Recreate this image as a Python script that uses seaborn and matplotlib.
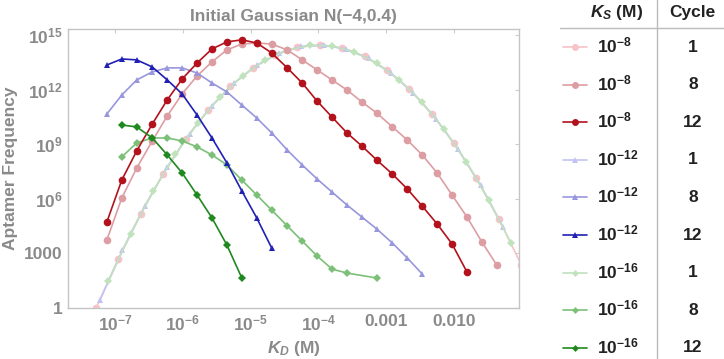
import matplotlib
matplotlib.use('Agg')  # no display
import matplotlib.pyplot as plt
import seaborn as sns
import numpy as np
import pandas as pd
from matplotlib.lines import Line2D
from matplotlib.ticker import FixedLocator, NullLocator

sns.set_style('white')
plt.rcParams['font.family'] = ['Liberation Sans', 'DejaVu Sans']
plt.rcParams['mathtext.fontset'] = 'custom'
plt.rcParams['mathtext.rm'] = 'Liberation Sans:bold'
plt.rcParams['mathtext.bf'] = 'Liberation Sans:bold'
plt.rcParams['mathtext.it'] = 'Liberation Sans:italic:bold'
plt.rcParams['mathtext.default'] = 'rm'

# ---- data: log10(K_D) and log10(frequency) ----
# cycle 1 (initial gaussian), one per K_S
ks8_c1_x = [-7.28, -6.95, -6.62, -6.29, -5.96, -5.63, -5.30, -4.97, -4.64, -4.31,
            -3.98, -3.65, -3.32, -2.99, -2.66, -2.33, -2.00, -1.67, -1.34, -1.01]
ks8_c1_y = [0.0, 2.70, 5.18, 7.37, 9.26, 10.86, 12.17, 13.18, 13.90, 14.32,
            14.45, 14.28, 13.83, 13.07, 12.03, 10.68, 9.05, 7.12, 4.90, 2.38]
ks12_c1_x = [-7.22, -6.89, -6.56, -6.23, -5.90, -5.57, -5.24, -4.91, -4.58, -4.25,
             -3.92, -3.59, -3.26, -2.93, -2.60, -2.27, -1.94, -1.61, -1.28]
ks12_c1_y = [0.45, 3.17, 5.60, 7.74, 9.58, 11.12, 12.37, 13.33, 14.00, 14.37,
             14.44, 14.22, 13.71, 12.90, 11.80, 10.41, 8.72, 6.74, 4.46]
ks16_c1_x = [-7.10, -6.77, -6.44, -6.11, -5.78, -5.45, -5.12, -4.79, -4.46, -4.13,
             -3.80, -3.47, -3.14, -2.81, -2.48, -2.15, -1.82, -1.49, -1.16]
ks16_c1_y = [1.48, 4.09, 6.41, 8.44, 10.17, 11.61, 12.76, 13.61, 14.16, 14.43,
             14.40, 14.07, 13.45, 12.54, 11.33, 9.83, 8.03, 5.94, 3.56]

# later cycles
ks8_c8_x = [-7.12, -6.90, -6.68, -6.45, -6.23, -6.01, -5.79, -5.57, -5.35, -5.13,
            -4.91, -4.69, -4.46, -4.24, -4.02, -3.80, -3.58, -3.36, -3.14, -2.91,
            -2.69, -2.47, -2.25, -2.03, -1.81, -1.59, -1.37]
ks8_c8_y = [3.74, 6.04, 7.69, 9.18, 10.55, 11.76, 12.75, 13.52, 14.18, 14.50,
            14.56, 14.50, 14.18, 13.63, 13.08, 12.53, 11.98, 11.32, 10.71, 9.95,
            9.23, 8.41, 7.42, 6.21, 5.00, 3.63, 2.36]
ks8_c12_x = [-7.12, -6.90, -6.68, -6.45, -6.23, -6.01, -5.79, -5.57, -5.35, -5.13,
             -4.91, -4.69, -4.46, -4.24, -4.02, -3.80, -3.58, -3.36, -3.14, -2.91,
             -2.69, -2.47, -2.25, -2.03, -1.81]
ks8_c12_y = [4.73, 7.03, 8.63, 10.11, 11.43, 12.58, 13.46, 14.23, 14.62, 14.73,
             14.56, 14.01, 13.19, 12.36, 11.37, 10.49, 9.62, 8.90, 8.13, 7.36,
             6.54, 5.60, 4.62, 3.52, 1.98]
ks12_c8_x = [-7.12, -6.90, -6.68, -6.45, -6.23, -6.01, -5.79, -5.57, -5.35, -5.13,
             -4.91, -4.69, -4.46, -4.24, -4.02, -3.80, -3.58, -3.36, -3.14, -2.91,
             -2.69, -2.47]
ks12_c8_y = [10.66, 11.70, 12.53, 12.97, 13.19, 13.19, 12.91, 12.36, 11.87, 11.15,
             10.44, 9.62, 8.68, 7.86, 7.09, 6.37, 5.66, 5.00, 4.34, 3.57,
             2.75, 1.87]
ks12_c12_x = [-7.12, -6.90, -6.68, -6.45, -6.23, -6.01, -5.79, -5.57, -5.35, -5.13,
              -4.91, -4.69]
ks12_c12_y = [13.35, 13.68, 13.63, 13.24, 12.53, 11.76, 10.60, 9.34, 7.97, 6.43,
              4.95, 3.30]
ks16_c8_x = [-6.90, -6.68, -6.45, -6.23, -6.01, -5.79, -5.57, -5.35, -5.13, -4.91,
             -4.69, -4.46, -4.24, -4.02, -3.80, -3.58, -3.14]
ks16_c8_y = [8.30, 9.07, 9.34, 9.34, 9.18, 8.85, 8.41, 7.86, 7.03, 6.21,
             5.38, 4.51, 3.68, 2.86, 2.14, 1.92, 1.65]
ks16_c12_x = [-6.90, -6.68, -6.45, -6.23, -6.01, -5.79, -5.57, -5.35, -5.13]
ks16_c12_y = [10.05, 9.95, 9.34, 8.41, 7.42, 6.21, 4.95, 3.46, 1.65]

ks_labels = [r'$10^{-8}$', r'$10^{-8}$', r'$10^{-8}$',
             r'$10^{-12}$', r'$10^{-12}$', r'$10^{-12}$',
             r'$10^{-16}$', r'$10^{-16}$', r'$10^{-16}$']
cycle_labels = ['1', '8', '12', '1', '8', '12', '1', '8', '12']

x_ticks = [1e-7, 1e-6, 1e-5, 1e-4, 1e-3, 1e-2]
x_ticklabels = [r'$10^{-7}$', r'$10^{-6}$', r'$10^{-5}$', r'$10^{-4}$', '0.001', '0.010']
y_ticks = [1, 1e3, 1e6, 1e9, 1e12, 1e15]
y_ticklabels = ['1', '1000', r'$10^{6}$', r'$10^{9}$', r'$10^{12}$', r'$10^{15}$']

series = [
    (ks8_c1_x, ks8_c1_y), (ks8_c8_x, ks8_c8_y), (ks8_c12_x, ks8_c12_y),
    (ks12_c1_x, ks12_c1_y), (ks12_c8_x, ks12_c8_y), (ks12_c12_x, ks12_c12_y),
    (ks16_c1_x, ks16_c1_y), (ks16_c8_x, ks16_c8_y), (ks16_c12_x, ks16_c12_y),
]
colors = ['#f6c3c8', '#dd9ea3', '#b3121c',
          '#c2c2f4', '#9897dd', '#2020b4',
          '#c0e2bd', '#7cc078', '#1f891f']
markers = ['o', 'o', 'o', '^', '^', '^', 'D', 'D', 'D']
msizes = [5.5, 5.5, 5.5, 5, 5, 5, 4, 4, 4]
draw_order = [0, 3, 6, 1, 4, 7, 2, 5, 8]

rows = []
for i, (xs, ys) in enumerate(series):
    for xv, yv in zip(xs, ys):
        rows.append({'series': i, 'KD': 10 ** xv, 'freq': 10 ** yv})
df = pd.DataFrame(rows)

fig = plt.figure(figsize=(7.24, 3.59), dpi=100)
ax = fig.add_axes([0.094, 0.142, 0.623, 0.777])
ax.set_xscale('log')
ax.set_yscale('log')

for i in draw_order:
    sub = df[df['series'] == i]
    sns.lineplot(data=sub, x='KD', y='freq', ax=ax, color=colors[i], marker=markers[i],
                 markersize=msizes[i], markeredgewidth=0, linewidth=1.2,
                 sort=False, errorbar=None, legend=False)

ax.set_xlim(2.03e-8, 0.091)
ax.set_ylim(1, 2.1e15)

ax.xaxis.set_major_locator(FixedLocator(x_ticks))
ax.xaxis.set_minor_locator(NullLocator())
ax.set_xticklabels(x_ticklabels)
ax.yaxis.set_major_locator(FixedLocator(y_ticks))
ax.yaxis.set_minor_locator(NullLocator())
ax.set_yticklabels(y_ticklabels)

gray = '#8a8a8a'
ax.tick_params(axis='both', which='major', labelsize=12.5, labelcolor=gray, color='#cccccc',
               direction='in', length=3, width=0.8, top=True, right=True, pad=4)
for lab in ax.get_xticklabels() + ax.get_yticklabels():
    lab.set_fontweight('bold')
for sp in ax.spines.values():
    sp.set_color('#c4c4c4')
    sp.set_linewidth(1.0)

ax.set_xlabel(r'$\mathit{K}_{\mathit{D}}$ (M)', fontsize=12.5, color=gray, fontweight='bold', labelpad=4)
ax.set_ylabel('Aptamer Frequency', fontsize=12.5, color=gray, fontweight='bold', labelpad=4)
ax.set_title(u'Initial Gaussian N(\u22124,0.4)', fontsize=12.5, color=gray, fontweight='bold', pad=6)

# ---- table-like legend on the right ----
H = 359.0
W = 724.0
fig.text(617 / W, 1 - 13 / H, r'$\mathit{K}_{\mathit{S}}$ (M)', fontsize=12.5, fontweight='bold',
         ha='center', va='center', color='#222222')
fig.text(692 / W, 1 - 13 / H, 'Cycle', fontsize=12.5, fontweight='bold',
         ha='center', va='center', color='#222222')
fig.add_artist(Line2D([560 / W, 1.0], [1 - 28 / H, 1 - 28 / H], color='#bbbbbb', lw=1.0))
fig.add_artist(Line2D([657 / W, 657 / W], [0.0, 1.0], color='#bbbbbb', lw=1.0))
for r in range(9):
    yc = 1 - (47 + 37.6 * r) / H
    fig.add_artist(Line2D([563 / W, 587 / W], [yc, yc], color=colors[r], lw=1.2))
    fig.add_artist(Line2D([575 / W], [yc], color=colors[r], marker=markers[r],
                          markersize=msizes[r] - 0.5, markeredgewidth=0, lw=0))
    fig.text(597 / W, yc + 1.5 / H, ks_labels[r], fontsize=12.5, ha='left', va='center', color='#222222')
    fig.text(693 / W, yc, cycle_labels[r], fontsize=12.5, fontweight='bold',
             ha='center', va='center', color='#222222')

plt.savefig('out.png', dpi=100)
plt.close()
